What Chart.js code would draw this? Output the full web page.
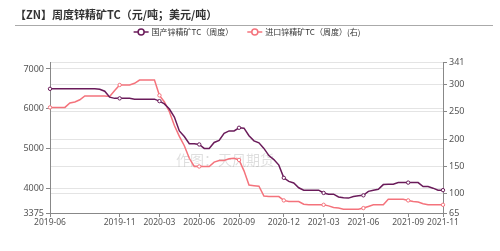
<!DOCTYPE html>
<html>
<head>
<meta charset="utf-8">
<script src="https://cdn.jsdelivr.net/npm/chart.js@4.4.0/dist/chart.umd.min.js"></script>
<style>
    html, body { margin: 0; padding: 0; background: #fff; }
</style>
</head>
<body>
<canvas id="chart" width="500" height="251"></canvas>
<script>
// weekly points, labelled by month
const categories = [
    '2019-06','2019-06','2019-06','2019-07','2019-07','2019-07','2019-08','2019-08','2019-08','2019-09','2019-09','2019-09','2019-10','2019-10',
    '2019-11','2019-11','2019-12','2019-12','2020-01','2020-01','2020-02','2020-02',
    '2020-03','2020-03','2020-03','2020-04','2020-04','2020-04','2020-05','2020-05',
    '2020-06','2020-06','2020-06','2020-07','2020-07','2020-07','2020-08','2020-08',
    '2020-09','2020-09','2020-09','2020-10','2020-10','2020-10','2020-11','2020-11','2020-11',
    '2020-12','2020-12','2020-12','2021-01','2021-01','2021-01','2021-02','2021-02',
    '2021-03','2021-03','2021-03','2021-04','2021-04','2021-04','2021-05','2021-05',
    '2021-06','2021-06','2021-06','2021-07','2021-07','2021-07','2021-08','2021-08','2021-08',
    '2021-09','2021-09','2021-09','2021-09','2021-10','2021-10','2021-10',
    '2021-11'
];
const domesticTC = [
    6500, 6500, 6500, 6500, 6500, 6500, 6500, 6500, 6500, 6500,
    6490, 6440, 6290, 6260, 6260, 6260, 6260, 6240, 6240, 6240,
    6240, 6240, 6190, 6120, 5990, 5790, 5440, 5300, 5120, 5120,
    5100, 5000, 5000, 5150, 5200, 5380, 5440, 5440, 5520, 5510,
    5320, 5190, 5140, 5000, 4820, 4720, 4580, 4260, 4170, 4130,
    4010, 3950, 3950, 3950, 3950, 3880, 3850, 3850, 3780, 3760,
    3750, 3790, 3810, 3820, 3920, 3950, 3970, 4090, 4100, 4100,
    4140, 4140, 4140, 4140, 4140, 4040, 4040, 4000, 3950, 3950
];
const importTC = [
    258, 258, 258, 258, 266, 268, 272, 279, 279, 279,
    279, 279, 278, 289, 299, 299, 299, 302, 308, 308,
    308, 308, 280, 268, 250, 225, 205, 188, 165, 150,
    150, 150, 150, 158, 161, 161, 164, 165, 162, 142,
    116, 115, 114, 96, 95, 95, 95, 88, 86, 86,
    86, 81, 80, 80, 80, 80, 78, 75, 74, 72,
    72, 72, 72, 74, 77, 80, 80, 80, 90, 90,
    90, 90, 88, 86, 85, 82, 80, 80, 80, 80
];
const xTickLabels = ['2019-06','2019-11','2020-03','2020-06','2020-09','2020-12','2021-03','2021-06','2021-09','2021-11'];
const leftTicks = [3375, 4000, 5000, 6000, 7000];
const rightTicks = [65, 100, 150, 200, 250, 300, 341];
const seriesNames = ['国产锌精矿TC（周度）', '进口锌精矿TC（周度）(右)'];
const chartTitle = '【ZN】周度锌精矿TC（元/吨；美元/吨）';
const watermark = '作图：天风期货';

const purple = '#6a1b5a';
const pink = '#f4737c';
const cjk = '"Noto Sans CJK SC", "Noto Sans", sans-serif';
const axisFont = { family: '"Noto Sans", sans-serif', size: 9 };

function isTick(i) {
    return (i === 0 || categories[i] !== categories[i - 1]) && xTickLabels.includes(categories[i]);
}

// title, separator, legend and watermark
const decor = {
    id: 'decor',
    beforeDatasetsDraw(chart) {
        const ctx = chart.ctx;
        ctx.save();
        ctx.font = '14px ' + cjk;
        ctx.fillStyle = 'rgba(0,0,0,0.13)';
        ctx.textAlign = 'center';
        ctx.textBaseline = 'middle';
        ctx.fillText(watermark, 225, 160);
        ctx.restore();
    },
    afterDraw(chart) {
        const ctx = chart.ctx;
        ctx.save();
        ctx.fillStyle = '#333';
        ctx.font = 'bold 11px ' + cjk;
        ctx.textBaseline = 'middle';
        ctx.textAlign = 'left';
        ctx.fillText(chartTitle, 15, 15);

        ctx.strokeStyle = '#aaa';
        ctx.lineWidth = 1;
        ctx.beginPath();
        ctx.moveTo(15, 25.5);
        ctx.lineTo(493, 25.5);
        ctx.stroke();

        ctx.font = '8px ' + cjk;
        const colors = [purple, pink];
        const widths = seriesNames.map(s => ctx.measureText(s).width);
        const total = widths[0] + widths[1] + 2 * 18 + 14;
        let x = 247 - total / 2;
        const y = 32;
        seriesNames.forEach((name, i) => {
            ctx.strokeStyle = colors[i];
            ctx.lineWidth = 1.5;
            ctx.beginPath();
            ctx.moveTo(x, y);
            ctx.lineTo(x + 15, y);
            ctx.stroke();
            ctx.beginPath();
            ctx.arc(x + 7.5, y, 3, 0, Math.PI * 2);
            ctx.fillStyle = '#fff';
            ctx.fill();
            ctx.stroke();
            ctx.fillStyle = '#333';
            ctx.fillText(name, x + 18, y);
            x += 18 + widths[i] + 14;
        });
        ctx.restore();
    }
};

const config = {
    type: 'line',
    data: {
        labels: categories,
        datasets: [
            {
                label: seriesNames[0],
                data: domesticTC,
                yAxisID: 'y',
                borderColor: purple,
                borderWidth: 1.5,
                pointRadius: c => isTick(c.index) ? 1.7 : 0,
                pointBackgroundColor: '#fff',
                pointBorderColor: purple,
                pointBorderWidth: 1,
                tension: 0
            },
            {
                label: seriesNames[1],
                data: importTC,
                yAxisID: 'y1',
                borderColor: pink,
                borderWidth: 1.5,
                pointRadius: c => isTick(c.index) ? 1.7 : 0,
                pointBackgroundColor: '#fff',
                pointBorderColor: pink,
                pointBorderWidth: 1,
                tension: 0
            }
        ]
    },
    options: {
        responsive: false,
        animation: false,
        layout: { padding: { top: 62, left: 0, right: 0, bottom: 0 } },
        plugins: {
            legend: { display: false },
            title: { display: false },
            tooltip: { enabled: false }
        },
        scales: {
            x: {
                type: 'category',
                offset: false,
                grid: { drawOnChartArea: false, tickLength: 4, color: '#888' },
                border: { color: '#888' },
                ticks: {
                    autoSkip: false,
                    maxRotation: 0,
                    padding: 0,
                    color: '#555',
                    font: { family: axisFont.family, size: 8.5 }
                },
                afterBuildTicks: s => { s.ticks = s.ticks.filter(t => isTick(t.value)); },
                afterFit: s => { s.height = 38; }
            },
            y: {
                position: 'left',
                min: 3375,
                max: 7175,
                afterBuildTicks: s => { s.ticks = leftTicks.map(v => ({ value: v })); },
                grid: { color: '#e4e4e4', tickColor: '#888', tickLength: 4 },
                border: { color: '#888' },
                ticks: { color: '#555', font: axisFont, padding: 2, callback: v => String(v) },
                afterFit: s => { s.width = 50; }
            },
            y1: {
                position: 'right',
                min: 65,
                max: 341,
                afterBuildTicks: s => { s.ticks = rightTicks.map(v => ({ value: v })); },
                grid: { color: '#e4e4e4', tickColor: '#888', tickLength: 4 },
                border: { color: '#888' },
                ticks: { color: '#555', font: axisFont, padding: 2, callback: v => String(v) },
                afterFit: s => { s.width = 57; }
            }
        }
    },
    plugins: [decor]
};

new Chart(document.getElementById('chart').getContext('2d'), config);
</script>
</body>
</html>
